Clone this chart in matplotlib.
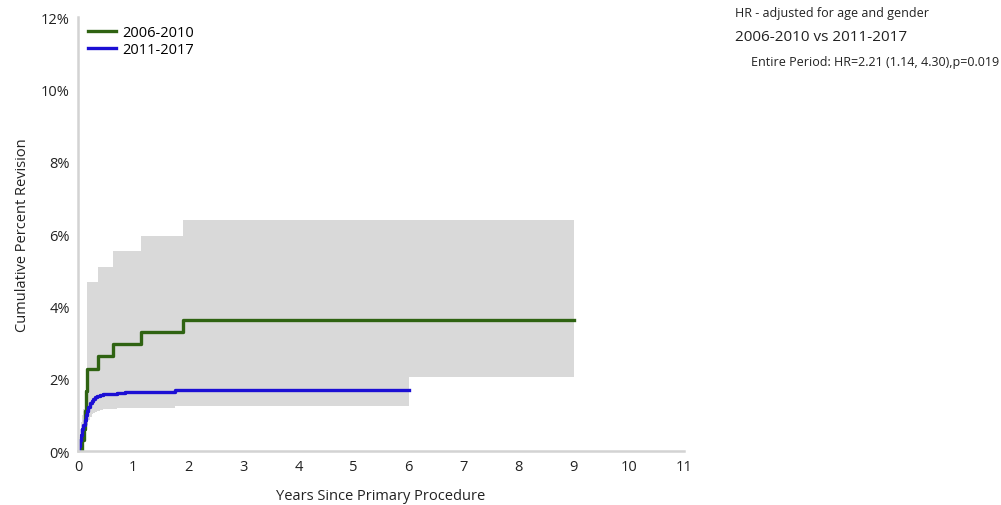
import numpy as np
import matplotlib.pyplot as plt

plt.rcParams['font.family'] = ['Open Sans', 'DejaVu Sans']

# cumulative percent revision, step functions (years, %)
t_early = [0, 0.08, 0.11, 0.13, 0.145, 0.16, 0.37, 0.63, 1.14, 1.90, 9.0]
rev_early = [0, 0.3, 0.6, 1.1, 1.67, 2.28, 2.62, 2.95, 3.28, 3.62, 3.62]

ci_t_early = [0.16, 0.37, 0.63, 1.14, 1.90, 9.0]
ci_hi_early = [4.66, 5.09, 5.52, 5.95, 6.40, 6.40]
ci_lo_early = [1.2, 1.35, 1.55, 1.8, 2.05, 2.05]

t_late = [0, 0.02, 0.04, 0.06, 0.08, 0.10, 0.12, 0.14, 0.16, 0.19, 0.22, 0.25,
          0.28, 0.31, 0.35, 0.40, 0.46, 0.52, 0.58, 0.70, 0.85, 1.76, 6.0]
rev_late = [0, 0.15, 0.3, 0.45, 0.6, 0.72, 0.85, 1.0, 1.12, 1.22, 1.32, 1.38,
            1.44, 1.48, 1.51, 1.54, 1.57, 1.58, 1.59, 1.61, 1.64, 1.70, 1.70]
ci_lo_late = [0, 0.05, 0.1, 0.2, 0.3, 0.4, 0.5, 0.6, 0.72, 0.85, 0.95, 1.02,
              1.06, 1.09, 1.11, 1.13, 1.15, 1.16, 1.17, 1.18, 1.19, 1.25, 1.25]
ci_hi_late = [0.2, 0.4, 0.6, 0.8, 1.0, 1.15, 1.3, 1.5, 1.7, 1.85, 2.0, 2.05,
              2.1, 2.1, 2.1, 2.1, 2.1, 2.1, 2.1, 2.1, 2.15, 2.2, 2.2]

x_ticks = list(range(0, 12))
y_ticks = [0, 2, 4, 6, 8, 10, 12]

band = '#d9d9d9'
green = '#2f6312'
blue = '#1c0fd4'
axis_grey = '#d3d3d3'

fig = plt.figure(figsize=(10.01, 5.06), dpi=100)
ax = fig.add_axes([0.0779, 0.1067, 0.6054, 0.8577])

ax.fill_between(ci_t_early, ci_lo_early, ci_hi_early, step='post', color=band, lw=0)
ax.fill_between(t_late, ci_lo_late, ci_hi_late, step='post', color=band, lw=0)

ax.step(t_early, rev_early, where='post', color=green, lw=2.4, label='2006-2010')
ax.step(t_late, rev_late, where='post', color=blue, lw=2.4, label='2011-2017')

ax.set_xlim(0, 11)
ax.set_ylim(0, 12)
ax.set_xticks(x_ticks)
ax.set_yticks(y_ticks)
ax.set_yticklabels([f'{v}%' for v in y_ticks])
ax.tick_params(length=0, labelsize=10.5, colors='#222222', pad=6)

for s in ['top', 'right']:
    ax.spines[s].set_visible(False)
for s in ['left', 'bottom']:
    ax.spines[s].set_color(axis_grey)
    ax.spines[s].set_linewidth(1.8)

ax.set_xlabel('Years Since Primary Procedure', fontsize=10.5, color='#222222', labelpad=10)
ax.set_ylabel('Cumulative Percent Revision', fontsize=10.5, color='#222222', labelpad=8)

ax.legend(loc='upper left', bbox_to_anchor=(0.0, 1.005), frameon=False, fontsize=10.5,
          handlelength=1.9, handletextpad=0.45, labelspacing=0.15, borderaxespad=0.3)

fig.text(0.734, 0.974, 'HR - adjusted for age and gender', fontsize=9, color='#222222', va='center')
fig.text(0.734, 0.925, '2006-2010 vs 2011-2017', fontsize=11, color='#222222', va='center')
fig.text(0.750, 0.877, 'Entire Period: HR=2.21 (1.14, 4.30),p=0.019', fontsize=9,
         color='#222222', va='center')

fig.savefig('out.png', dpi=100)
